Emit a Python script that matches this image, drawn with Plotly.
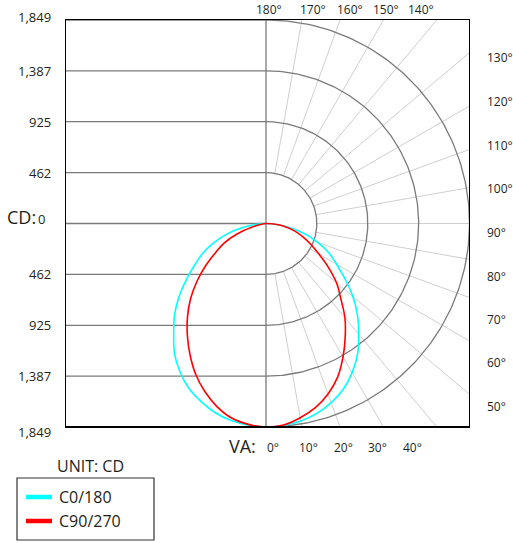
import numpy as np
import plotly.graph_objects as go

# ---------------- data (candela vs vertical angle) ----------------
gamma_deg = [0, 5, 10, 15, 20, 25, 30, 35, 40, 45, 50, 55, 60, 65, 70, 75, 80, 85, 90]
c0 = [1849, 1842, 1822, 1786, 1732, 1662, 1565, 1450, 1310, 1175, 1030, 875, 740, 630, 500, 365, 215, 100, 0]
c180 = [1849, 1840, 1818, 1780, 1722, 1655, 1560, 1448, 1305, 1175, 1030, 880, 745, 630, 500, 365, 215, 100, 0]
c90 = [1849, 1838, 1792, 1732, 1648, 1540, 1400, 1255, 1115, 960, 835, 690, 555, 450, 360, 275, 190, 100, 0]
c270 = [1849, 1832, 1795, 1722, 1625, 1512, 1380, 1245, 1110, 970, 820, 670, 530, 420, 280, 135, 60, 20, 0]
series_names = ["C0/180", "C90/270"]
series_colors = ["#00ffff", "#ff0000"]

ring_cd = [462, 925, 1387, 1849]
cd_label_values = [1849, 1387, 925, 462, 0, -462, -925, -1387, -1849]
cd_labels = ["1,849", "1,387", "925", "462", "0", "462", "925", "1,387", "1,849"]
spoke_angles = [10, 20, 30, 40, 50, 60, 70, 80, 90, 100, 110, 120, 130, 140, 150, 160, 170]
va_top_labels = ["180°", "170°", "160°", "150°", "140°"]
va_right_labels = ["130°", "120°", "110°", "100°", "90°", "80°", "70°", "60°", "50°"]
va_bottom_labels = ["0°", "10°", "20°", "30°", "40°"]

# ---------------- layout geometry (pixels) ----------------
W, H = 513, 543
L, R, T, B = 66, 469, 20, 427
CX = 266
rmax = 1849
pxu = (B - T) / (2 * rmax)
xmin = -(CX - L) / pxu
xmax = (R - CX) / pxu


def px(x):
    return (x - L) / (R - L)


def py(y):
    return (B - y) / (B - T)


FONT = "Open Sans"
TXT = "#231f20"
DARK = "#7a7a7a"
LIGHT = "#cfcfcf"

fig = go.Figure()

# spokes (light)
for a in spoke_angles:
    t = np.radians(a)
    rr = np.array([ring_cd[0], 3000])
    fig.add_trace(go.Scatter(x=rr * np.sin(t), y=-rr * np.cos(t), mode="lines",
                             line=dict(color=LIGHT, width=1), hoverinfo="skip", showlegend=False))

# arcs on the right half
th = np.radians(np.linspace(0, 180, 181))
for rc in ring_cd:
    fig.add_trace(go.Scatter(x=rc * np.sin(th), y=-rc * np.cos(th), mode="lines",
                             line=dict(color=DARK, width=1.3), hoverinfo="skip", showlegend=False))

# horizontal lines on the left half
for v in cd_label_values:
    fig.add_trace(go.Scatter(x=[xmin, 0], y=[v, v], mode="lines",
                             line=dict(color=DARK, width=1.3), hoverinfo="skip", showlegend=False))

# vertical centre line
fig.add_trace(go.Scatter(x=[0, 0], y=[-rmax, rmax], mode="lines",
                         line=dict(color=DARK, width=1.3), hoverinfo="skip", showlegend=False))

# curves: right half = first plane, left half = opposite plane
g = np.radians(np.array(gamma_deg, dtype=float))
for right_vals, left_vals, name, col in zip([c0, c90], [c180, c270], series_names, series_colors):
    rr_ = np.array(right_vals, dtype=float)
    rl = np.array(left_vals, dtype=float)
    xs = np.concatenate([-(rl[::-1] * np.sin(g[::-1])), rr_[1:] * np.sin(g[1:])])
    ys = np.concatenate([-(rl[::-1] * np.cos(g[::-1])), -(rr_[1:] * np.cos(g[1:]))])
    fig.add_trace(go.Scatter(x=xs, y=ys, mode="lines", name=name,
                             line=dict(color=col, width=1.6, shape="spline", smoothing=1.0),
                             showlegend=False))

ann = []
# CD labels
for v, t in zip(cd_label_values, cd_labels):
    ys = 0
    xr = 53
    if v == rmax:
        ys = 3
    elif v == -rmax:
        ys = -5
    elif v == 0:
        ys = 5
        xr = 47
    ann.append(dict(x=px(xr), xref="paper", y=v, yref="y", text=t, showarrow=False,
                    xanchor="right", yanchor="middle", yshift=ys,
                    font=dict(family=FONT, size=13, color=TXT)))
ann.append(dict(x=px(21), xref="paper", y=py(217), yref="paper", text="CD:", showarrow=False,
                xanchor="center", yanchor="middle", font=dict(family=FONT, size=18, color=TXT)))

# angle labels
for t, xc in zip(va_top_labels, [269, 313, 350, 386, 421]):
    ann.append(dict(x=px(xc), xref="paper", y=py(10), yref="paper", text=t, showarrow=False,
                    xanchor="center", yanchor="middle", font=dict(family=FONT, size=12, color=TXT)))
for t, yc in zip(va_right_labels, [57, 101, 145, 188, 232, 276, 319, 362, 406]):
    ann.append(dict(x=px(485), xref="paper", y=py(yc), yref="paper", text=t, showarrow=False,
                    xanchor="left", yanchor="middle", font=dict(family=FONT, size=12, color=TXT)))
for t, xc in zip(va_bottom_labels, [273, 308, 343, 377, 412]):
    ann.append(dict(x=px(xc), xref="paper", y=py(447), yref="paper", text=t, showarrow=False,
                    xanchor="center", yanchor="middle", font=dict(family=FONT, size=12, color=TXT)))
ann.append(dict(x=px(242), xref="paper", y=py(446), yref="paper", text="VA:", showarrow=False,
                xanchor="center", yanchor="middle", font=dict(family=FONT, size=18, color=TXT)))

# legend (drawn)
ann.append(dict(x=px(90), xref="paper", y=py(466), yref="paper", text="UNIT: CD", showarrow=False,
                xanchor="center", yanchor="middle", font=dict(family=FONT, size=16, color=TXT)))
shapes = [
    dict(type="rect", xref="paper", yref="paper", x0=px(17), x1=px(154), y0=py(540), y1=py(478),
         line=dict(color="#333333", width=1.2), fillcolor="rgba(0,0,0,0)"),
    dict(type="line", xref="paper", yref="paper", x0=0, x1=1, y0=0, y1=0,
         line=dict(color="black", width=2)),
]
for name, col, yc in zip(series_names, series_colors, [497, 521]):
    shapes.append(dict(type="line", xref="paper", yref="paper", x0=px(26), x1=px(52), y0=py(yc), y1=py(yc),
                       line=dict(color=col, width=4.5)))
    ann.append(dict(x=px(57), xref="paper", y=py(yc), yref="paper", text=name, showarrow=False,
                    xanchor="left", yanchor="middle", font=dict(family=FONT, size=16, color=TXT)))

fig.update_layout(
    width=W, height=H,
    margin=dict(l=L, r=W - R, t=T, b=H - B, pad=0),
    paper_bgcolor="white", plot_bgcolor="white",
    showlegend=False,
    xaxis=dict(range=[xmin, xmax], showgrid=False, zeroline=False, showticklabels=False, ticks="",
               showline=True, mirror=True, linecolor="black", linewidth=1.2, fixedrange=True),
    yaxis=dict(range=[-rmax, rmax], showgrid=False, zeroline=False, showticklabels=False, ticks="",
               showline=True, mirror=True, linecolor="black", linewidth=1.2, fixedrange=True),
    annotations=ann,
    shapes=shapes,
)

fig.write_html("out.html", post_script="document.body.style.margin='0px';",
               config={"displayModeBar": False})
